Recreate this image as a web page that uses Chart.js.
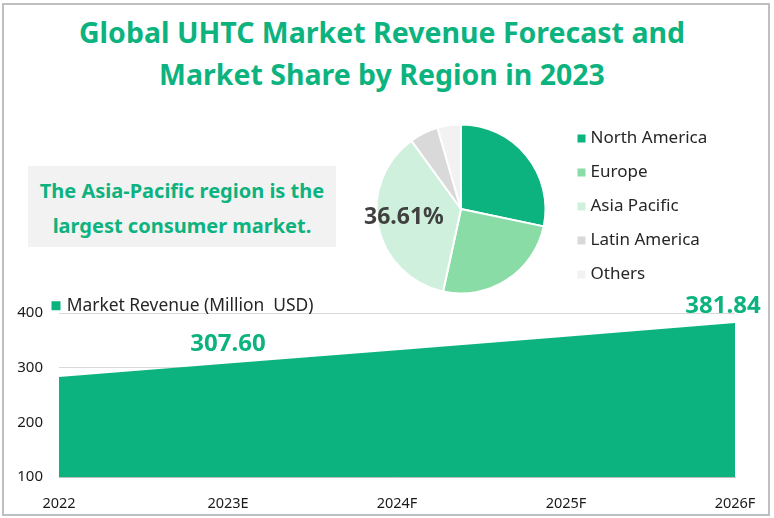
<!DOCTYPE html>
<html>
<head>
<meta charset="utf-8">
<title>Global UHTC Market</title>
<script src="https://cdn.jsdelivr.net/npm/chart.js@4/dist/chart.umd.min.js"></script>
<style>
  html, body { margin: 0; padding: 0; background: #fff; }
  body { width: 774px; height: 518px; overflow: hidden; position: relative; font-family: "Noto Sans", Arial, sans-serif; }
  #frame { position: absolute; left: 2px; top: 3px; width: 764px; height: 509px; border: 2px solid #bfbfbf; }
  #title { position: absolute; left: 0; top: 11px; width: 764px; text-align: center; color: #0db37e; font-size: 28.5px; font-weight: 700; line-height: 42px; }
  #note { position: absolute; left: 28px; top: 166px; width: 308px; height: 81px; background: #f2f2f2; text-align: center; color: #0db37e; font-size: 20px; font-weight: 700; line-height: 35px; padding-top: 7px; box-sizing: border-box; }
  canvas { position: absolute; }
  #pieChart { left: 202px; top: 99px; }
  #revenueChart { left: 0; top: 288px; }
</style>
</head>
<body>
<div id="frame"></div>
<div id="title">Global UHTC Market Revenue Forecast and<br>Market Share by Region in 2023</div>
<div id="note">The Asia-Pacific region is the<br>largest consumer market.</div>
<canvas id="pieChart" width="518" height="220"></canvas>
<canvas id="revenueChart" width="770" height="228"></canvas>
<script>
const regions = ["North America", "Europe", "Asia Pacific", "Latin America", "Others"];
const regionShare = [28.3, 25.1, 36.61, 5.5, 4.49];
const regionColors = ["#0db37e", "#8adca6", "#cff0dc", "#d9d9d9", "#f2f2f2"];

const years = ["2022", "2023E", "2024F", "2025F", "2026F"];
const revenue = [283, 307.6, 332, 356.5, 381.84];
const revenueTicks = [100, 200, 300, 400];

const green = "#0db37e";
const fontFamily = "'Noto Sans', Arial, sans-serif";

// moves the overlay legend to where it sits in the picture
const legendSpot = {
  id: "legendSpot",
  afterLayout(chart, args, opts) {
    const legend = chart.legend;
    const w = legend.width;
    legend.left = opts.left;
    legend.right = opts.left + w;
    legend.top = opts.top;
  }
};

const pieLabel = {
  id: "pieLabel",
  afterDatasetsDraw(chart) {
    const arc = chart.getDatasetMeta(0).data[2];
    const mid = (arc.startAngle + arc.endAngle) / 2;
    const ctx = chart.ctx;
    ctx.save();
    ctx.font = "700 23px " + fontFamily;
    ctx.fillStyle = "#404040";
    ctx.textAlign = "center";
    ctx.textBaseline = "middle";
    ctx.fillText(regionShare[2].toFixed(2) + "%", arc.x + Math.cos(mid) * arc.outerRadius * 0.69, arc.y + Math.sin(mid) * arc.outerRadius * 0.69 - 4);
    ctx.restore();
  }
};

const areaLabels = {
  id: "areaLabels",
  afterDatasetsDraw(chart) {
    const points = chart.getDatasetMeta(0).data;
    const ctx = chart.ctx;
    ctx.save();
    ctx.font = "700 24px " + fontFamily;
    ctx.fillStyle = green;
    ctx.textAlign = "center";
    ctx.textBaseline = "middle";
    ctx.fillText(revenue[1].toFixed(2), points[1].x, points[1].y - 19);
    ctx.fillText(revenue[4].toFixed(2), points[4].x - 12, points[4].y - 17);
    ctx.restore();
  }
};

new Chart(document.getElementById("pieChart"), {
  type: "pie",
  data: {
    labels: regions,
    datasets: [{
      data: regionShare,
      backgroundColor: regionColors,
      borderColor: "#fff",
      borderWidth: 2,
      radius: 84.5
    }]
  },
  plugins: [legendSpot, pieLabel],
  options: {
    responsive: false,
    animation: false,
    plugins: {
      tooltip: { enabled: false },
      legendSpot: { left: 362, top: 14 },
      legend: {
        position: "chartArea",
        align: "start",
        labels: {
          usePointStyle: true,
          pointStyle: "rect",
          boxWidth: 1,
          boxHeight: 8,
          padding: 17,
          color: "#262626",
          font: { family: fontFamily, size: 17 },
          generateLabels(chart) {
            return Chart.overrides.pie.plugins.legend.labels.generateLabels(chart)
              .map(item => ({ ...item, lineWidth: 0 }));
          }
        }
      }
    }
  }
});

new Chart(document.getElementById("revenueChart"), {
  type: "line",
  data: {
    labels: years,
    datasets: [{
      label: "Market Revenue (Million  USD)",
      data: revenue,
      backgroundColor: green,
      borderWidth: 0,
      pointRadius: 0,
      tension: 0,
      fill: "start"
    }]
  },
  plugins: [legendSpot, areaLabels],
  options: {
    responsive: false,
    animation: false,
    layout: { padding: { top: 10, right: 35 } },
    plugins: {
      tooltip: { enabled: false },
      legendSpot: { left: 51, top: 6 },
      legend: {
        position: "chartArea",
        align: "start",
        labels: {
          usePointStyle: true,
          pointStyle: "rect",
          boxWidth: 4,
          boxHeight: 9,
          padding: 3,
          color: "#262626",
          font: { family: fontFamily, size: 17.4 }
        }
      }
    },
    scales: {
      x: {
        afterFit(scale) { scale.height = 39; },
        grid: { display: false },
        border: { color: "#bfbfbf" },
        ticks: { color: "#1a1a1a", maxRotation: 0, autoSkip: false, padding: 10, font: { family: fontFamily, size: 14.5 } }
      },
      y: {
        min: 100,
        max: 400,
        afterFit(scale) { scale.width = 59; },
        afterBuildTicks(scale) { scale.ticks = revenueTicks.map(value => ({ value })); },
        grid: { color: "#d9d9d9", drawTicks: false },
        border: { display: false },
        ticks: { color: "#1a1a1a", padding: 16, font: { family: fontFamily, size: 15 } }
      }
    }
  }
});
</script>
</body>
</html>
